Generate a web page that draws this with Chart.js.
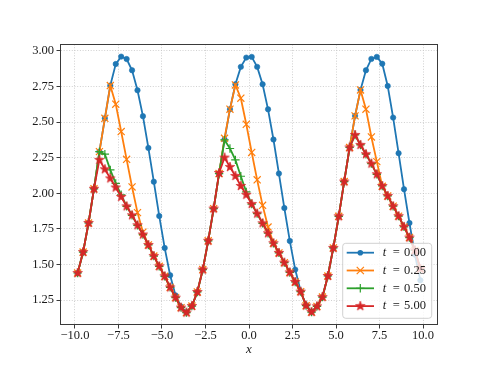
<!DOCTYPE html>
<html>
<head>
<meta charset="utf-8">
<script src="https://cdn.jsdelivr.net/npm/chart.js@4/dist/chart.umd.min.js"></script>
<style>
  html, body { margin: 0; padding: 0; background: #fff; }
  canvas { display: block; }
</style>
</head>
<body>
<canvas id="myChart" width="486" height="365"></canvas>
<script>
// grid points (cell centres)
const xs = [-9.844, -9.531, -9.219, -8.906, -8.594, -8.281, -7.969, -7.656, -7.344, -7.031,
            -6.719, -6.406, -6.094, -5.781, -5.469, -5.156, -4.844, -4.531, -4.219, -3.906,
            -3.594, -3.281, -2.969, -2.656, -2.344, -2.031, -1.719, -1.406, -1.094, -0.781,
            -0.469, -0.156, 0.156, 0.469, 0.781, 1.094, 1.406, 1.719, 2.031, 2.344,
            2.656, 2.969, 3.281, 3.594, 3.906, 4.219, 4.531, 4.844, 5.156, 5.469,
            5.781, 6.094, 6.406, 6.719, 7.031, 7.344, 7.656, 7.969, 8.281, 8.594,
            8.906, 9.219, 9.531, 9.844];

// t = 0.00
const u000 = [1.441, 1.588, 1.792, 2.032, 2.293, 2.527, 2.757, 2.908, 2.960, 2.943,
              2.864, 2.724, 2.542, 2.319, 2.082, 1.841, 1.617, 1.425, 1.284, 1.205,
              1.165, 1.209, 1.308, 1.465, 1.667, 1.893, 2.139, 2.378, 2.591, 2.766,
              2.888, 2.953, 2.958, 2.888, 2.766, 2.590, 2.378, 2.139, 1.897, 1.666,
              1.465, 1.313, 1.215, 1.170, 1.207, 1.272, 1.420, 1.617, 1.839, 2.083,
              2.322, 2.544, 2.726, 2.864, 2.944, 2.958, 2.910, 2.754, 2.532, 2.282,
              2.029, 1.792, 1.570, 1.390];
// t = 0.25
const u025 = [1.441, 1.588, 1.792, 2.032, 2.293, 2.527, 2.757, 2.626, 2.434, 2.239,
              2.045, 1.865, 1.728, 1.638, 1.560, 1.488, 1.418, 1.340, 1.268, 1.198,
              1.163, 1.209, 1.308, 1.465, 1.667, 1.893, 2.139, 2.387, 2.591, 2.761,
              2.668, 2.485, 2.287, 2.095, 1.916, 1.764, 1.650, 1.582, 1.514, 1.445,
              1.378, 1.310, 1.212, 1.167, 1.207, 1.272, 1.420, 1.617, 1.839, 2.083,
              2.322, 2.544, 2.726, 2.591, 2.396, 2.223, 2.050, 1.982, 1.910, 1.840,
              1.765, 1.690, 1.600, 1.470];
// t = 0.50
const u050 = [1.441, 1.588, 1.792, 2.032, 2.293, 2.275, 2.165, 2.070, 1.990, 1.909,
              1.846, 1.776, 1.711, 1.638, 1.560, 1.488, 1.418, 1.340, 1.268, 1.198,
              1.163, 1.209, 1.308, 1.465, 1.667, 1.893, 2.139, 2.375, 2.315, 2.235,
              2.120, 2.010, 1.925, 1.858, 1.790, 1.720, 1.650, 1.582, 1.514, 1.445,
              1.378, 1.310, 1.212, 1.167, 1.207, 1.272, 1.420, 1.617, 1.839, 2.083,
              2.322, 2.410, 2.340, 2.275, 2.209, 2.134, 2.052, 1.982, 1.910, 1.840,
              1.765, 1.690, 1.600, 1.470];
// t = 5.00
const u500 = [1.441, 1.588, 1.792, 2.032, 2.235, 2.169, 2.105, 2.041, 1.975, 1.909,
              1.846, 1.776, 1.711, 1.638, 1.560, 1.488, 1.418, 1.340, 1.268, 1.198,
              1.163, 1.209, 1.308, 1.465, 1.667, 1.893, 2.143, 2.251, 2.185, 2.122,
              2.052, 1.990, 1.925, 1.858, 1.790, 1.720, 1.650, 1.582, 1.514, 1.445,
              1.378, 1.310, 1.212, 1.167, 1.207, 1.272, 1.420, 1.617, 1.839, 2.083,
              2.322, 2.410, 2.340, 2.275, 2.209, 2.134, 2.052, 1.982, 1.910, 1.840,
              1.765, 1.690, 1.600, 1.470];

const times = ['0.00', '0.25', '0.50', '5.00'];
const xTicks = [-10, -7.5, -5, -2.5, 0, 2.5, 5, 7.5, 10];
const yTicks = [1.25, 1.5, 1.75, 2, 2.25, 2.5, 2.75, 3];

const FONT = '"Liberation Serif", "DejaVu Serif", serif';
const colors = ['#1f77b4', '#ff7f0e', '#2ca02c', '#d62728'];
const markers = ['circle', 'crossRot', 'cross', 'star'];

// filled star like matplotlib '*'
function makeStar(color, r) {
    const c = document.createElement('canvas');
    const s = Math.ceil(r * 2 + 2);
    c.width = s; c.height = s;
    const g = c.getContext('2d');
    g.translate(s / 2, s / 2);
    g.beginPath();
    for (let k = 0; k < 10; k++) {
        const rr = k % 2 ? r * 0.40 : r;
        const a = -Math.PI / 2 + k * Math.PI / 5;
        g.lineTo(rr * Math.cos(a), rr * Math.sin(a));
    }
    g.closePath();
    g.fillStyle = color;
    g.fill();
    g.lineWidth = 0.7;
    g.strokeStyle = color;
    g.stroke();
    return c;
}
const starImg = makeStar(colors[3], 5.0);

const toPts = ys => xs.map((x, i) => ({x: x, y: ys[i]}));

// later series drawn on top, like matplotlib
function lineSet(i, ys, style, radius, bw) {
    return {
        label: times[i],
        data: toPts(ys),
        order: 3 - i,
        borderColor: colors[i],
        backgroundColor: colors[i],
        pointBackgroundColor: colors[i],
        pointBorderColor: colors[i],
        pointStyle: style,
        pointRadius: radius,
        pointBorderWidth: bw,
        borderWidth: 1.8,
        tension: 0
    };
}

// draw one marker for the legend
function legendMarker(ctx, k, x, y) {
    ctx.save();
    ctx.strokeStyle = colors[k];
    ctx.fillStyle = colors[k];
    ctx.lineWidth = 1.2;
    if (k === 0) {
        ctx.beginPath(); ctx.arc(x, y, 2.8, 0, Math.PI * 2); ctx.fill();
    } else if (k === 1) {
        const d = 3.6;
        ctx.beginPath();
        ctx.moveTo(x - d, y - d); ctx.lineTo(x + d, y + d);
        ctx.moveTo(x - d, y + d); ctx.lineTo(x + d, y - d);
        ctx.stroke();
    } else if (k === 2) {
        const d = 4.2;
        ctx.beginPath();
        ctx.moveTo(x - d, y); ctx.lineTo(x + d, y);
        ctx.moveTo(x, y - d); ctx.lineTo(x, y + d);
        ctx.stroke();
    } else {
        ctx.drawImage(starImg, x - starImg.width / 2, y - starImg.height / 2);
    }
    ctx.restore();
}

const framePlugin = {
    id: 'frame',
    afterDatasetsDraw(chart) {
        const {ctx, chartArea: a} = chart;
        ctx.save();
        ctx.strokeStyle = '#3a3a3a';
        ctx.lineWidth = 1;
        ctx.strokeRect(a.left, a.top, a.right - a.left, a.bottom - a.top);
        ctx.restore();
    }
};

const legendPlugin = {
    id: 'boxLegend',
    afterDraw(chart) {
        const {ctx, chartArea: a} = chart;
        const w = 89, h = 75;
        const x0 = a.right - 5.8 - w;
        const y0 = a.bottom - 6.2 - h;
        ctx.save();
        ctx.beginPath();
        ctx.roundRect(x0, y0, w, h, 3);
        ctx.fillStyle = 'rgba(255,255,255,0.8)';
        ctx.fill();
        ctx.strokeStyle = 'rgba(204,204,204,0.9)';
        ctx.lineWidth = 1;
        ctx.stroke();
        ctx.textBaseline = 'middle';
        times.forEach((t, k) => {
            const y = y0 + 9.4 + k * 17.8;
            ctx.beginPath();
            ctx.moveTo(x0 + 4, y);
            ctx.lineTo(x0 + 31.3, y);
            ctx.strokeStyle = colors[k];
            ctx.lineWidth = 1.8;
            ctx.stroke();
            legendMarker(ctx, k, x0 + 17.6, y);
            ctx.fillStyle = '#1a1a1a';
            ctx.font = 'italic 12.5px ' + FONT;
            ctx.fillText('t', x0 + 40, y);
            ctx.font = '12.5px ' + FONT;
            ctx.fillText('=', x0 + 50, y);
            ctx.fillText(t, x0 + 61.3, y);
        });
        ctx.restore();
    }
};

const gridOpts = {
    color: '#c4c4c4',
    lineWidth: 0.8,
    drawTicks: true,
    tickLength: 4,
    tickColor: '#3a3a3a',
    tickWidth: 1,
    tickBorderDash: []
};

const ctx = document.getElementById('myChart').getContext('2d');
const myChart = new Chart(ctx, {
    type: 'line',
    data: {
        datasets: [
            lineSet(0, u000, markers[0], 2.7, 0.6),
            lineSet(1, u025, markers[1], 5.0, 1.2),
            lineSet(2, u050, markers[2], 4.2, 1.2),
            lineSet(3, u500, starImg, 5.0, 1)
        ]
    },
    options: {
        responsive: false,
        animation: false,
        devicePixelRatio: 1,
        layout: {
            padding: {left: 0, right: 48.5, top: 44.5, bottom: 0}
        },
        plugins: {
            legend: {display: false},
            tooltip: {enabled: false}
        },
        scales: {
            x: {
                type: 'linear',
                min: -10.83,
                max: 10.83,
                afterBuildTicks: s => { s.ticks = xTicks.map(v => ({value: v})); },
                afterFit: s => { s.height = 40.5; },
                grid: gridOpts,
                border: {display: false, dash: [1, 1.7]},
                ticks: {
                    autoSkip: false,
                    maxRotation: 0,
                    padding: 0,
                    color: '#1a1a1a',
                    font: {family: FONT, size: 12.5},
                    callback: v => v.toFixed(1).replace('-', '\u2212')
                },
                title: {
                    display: true,
                    text: 'x',
                    color: '#1a1a1a',
                    font: {family: FONT, size: 13, style: 'italic'},
                    padding: {top: 0, bottom: 8}
                }
            },
            y: {
                type: 'linear',
                min: 1.0795,
                max: 3.045,
                afterBuildTicks: s => { s.ticks = yTicks.map(v => ({value: v})); },
                afterFit: s => { s.width = 60.5; },
                grid: gridOpts,
                border: {display: false, dash: [1, 1.7]},
                ticks: {
                    autoSkip: false,
                    padding: 2.4,
                    color: '#1a1a1a',
                    font: {family: FONT, size: 12.5},
                    callback: v => v.toFixed(2)
                }
            }
        }
    },
    plugins: [framePlugin, legendPlugin]
});
</script>
</body>
</html>
